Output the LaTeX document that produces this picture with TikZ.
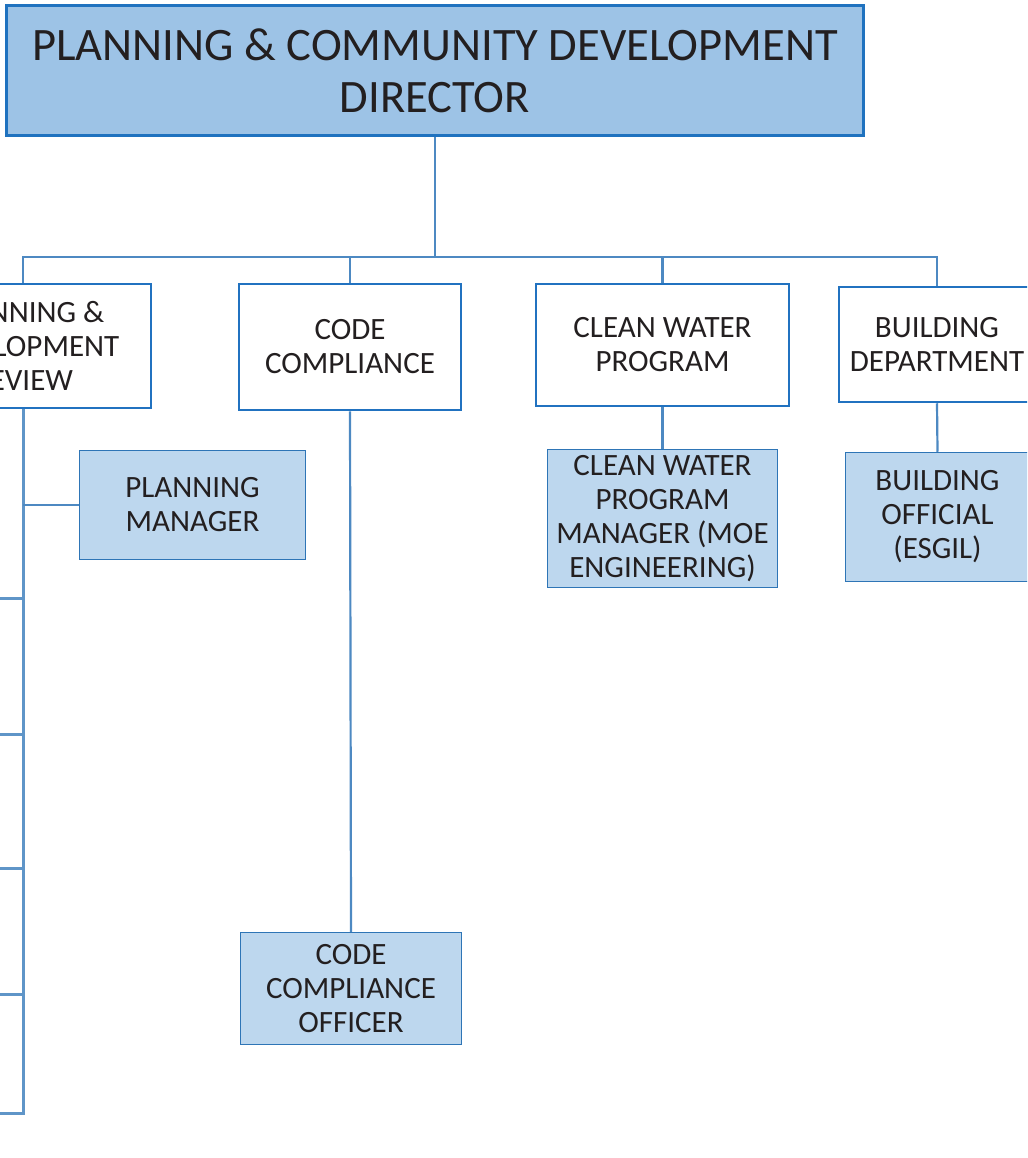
\documentclass[tikz,border=0pt]{standalone}
\usepackage{fontspec}
\setmainfont{Carlito}
\definecolor{txt}{HTML}{231F20}
\definecolor{headfill}{HTML}{9DC3E6}
\definecolor{headline}{HTML}{1F72BF}
\definecolor{unitline}{HTML}{2172C0}
\definecolor{stafffill}{HTML}{BDD7EE}
\definecolor{staffline}{HTML}{2E75B6}
\definecolor{link}{HTML}{4D89C2}
\tikzset{
  head/.style={draw=headline, line width=3pt, fill=headfill, inner sep=0pt,
    align=center, text=txt, font=\fontsize{46.5}{52}\selectfont},
  unit/.style={draw=unitline, line width=2.5pt, fill=white, inner sep=0pt,
    align=center, text=txt, font=\fontsize{31}{34}\selectfont},
  staff/.style={draw=staffline, line width=1.5pt, fill=stafffill, inner sep=0pt,
    align=center, text=txt, font=\fontsize{31}{34}\selectfont},
  wire/.style={draw=link, line width=2.2pt},
  spine/.style={draw=link!90!white, line width=3pt},
}
\begin{document}
\begin{tikzpicture}[x=1pt, y=-1pt]
\useasboundingbox (0,0) rectangle (1027,1158);
\clip (0,0) rectangle (1027,1158);

% connectors
\coordinate (bus) at (435,257);
\coordinate (s1) at (-30,598);
\coordinate (s2) at (-30,734);
\coordinate (s3) at (-30,868);
\coordinate (s4) at (-30,994);
\coordinate (s5) at (-30,1113);

% director
\node[head, minimum width=857pt, minimum height=130pt] (dir) at (435,70.5)
  {PLANNING \& COMMUNITY DEVELOPMENT\\DIRECTOR};

% divisions
\node[unit, minimum width=256pt, minimum height=124pt] (pdr) at (23,346)
  {PLANNING \&\\DEVELOPMENT\\REVIEW};
\node[unit, minimum width=222pt, minimum height=126pt] (cc) at (350,347)
  {CODE\\COMPLIANCE};
\node[unit, minimum width=253pt, minimum height=122pt] (cwp) at (662.5,345)
  {CLEAN WATER\\PROGRAM};
\node[unit, minimum width=196pt, minimum height=115pt] (bd) at (937,344.5)
  {BUILDING\\DEPARTMENT};

% staff positions
\node[staff, minimum width=226pt, minimum height=109pt] (pm) at (192.5,505)
  {PLANNING\\MANAGER};
\node[staff, minimum width=230pt, minimum height=138pt] (cwpm) at (662.5,518.5)
  {CLEAN WATER\\PROGRAM\\MANAGER (MOE\\ENGINEERING)};
\node[staff, minimum width=184pt, minimum height=129pt] (bo) at (937.5,517)
  {BUILDING\\OFFICIAL\\(ESGIL)};
\node[staff, minimum width=221pt, minimum height=112pt] (cco) at (351,988.5)
  {CODE\\COMPLIANCE\\OFFICER};

% director to divisions
\draw[wire] (dir.south) -- (dir.south |- bus);
\draw[wire] (pdr.north) -- (pdr.north |- bus) -- (bd.north |- bus) -- (bd.north);
\draw[wire] (cc.north) -- (cc.north |- bus);
\draw[wire] (cwp.north) -- (cwp.north |- bus);

% divisions to staff
\draw[wire] (cc.south) -- (cco.north);
\draw[wire] (cwp.south) -- (cwpm.north);
\draw[wire] (bd.south) -- (bo.north);

% planning review spine and branches
\draw[spine] (pdr.south) -- (pdr.south |- s5) -- (s5);
\draw[wire] (pdr.south |- pm.west) -- (pm.west);
\draw[spine] (pdr.south |- s1) -- (s1);
\draw[spine] (pdr.south |- s2) -- (s2);
\draw[spine] (pdr.south |- s3) -- (s3);
\draw[spine] (pdr.south |- s4) -- (s4);
\end{tikzpicture}
\end{document}
